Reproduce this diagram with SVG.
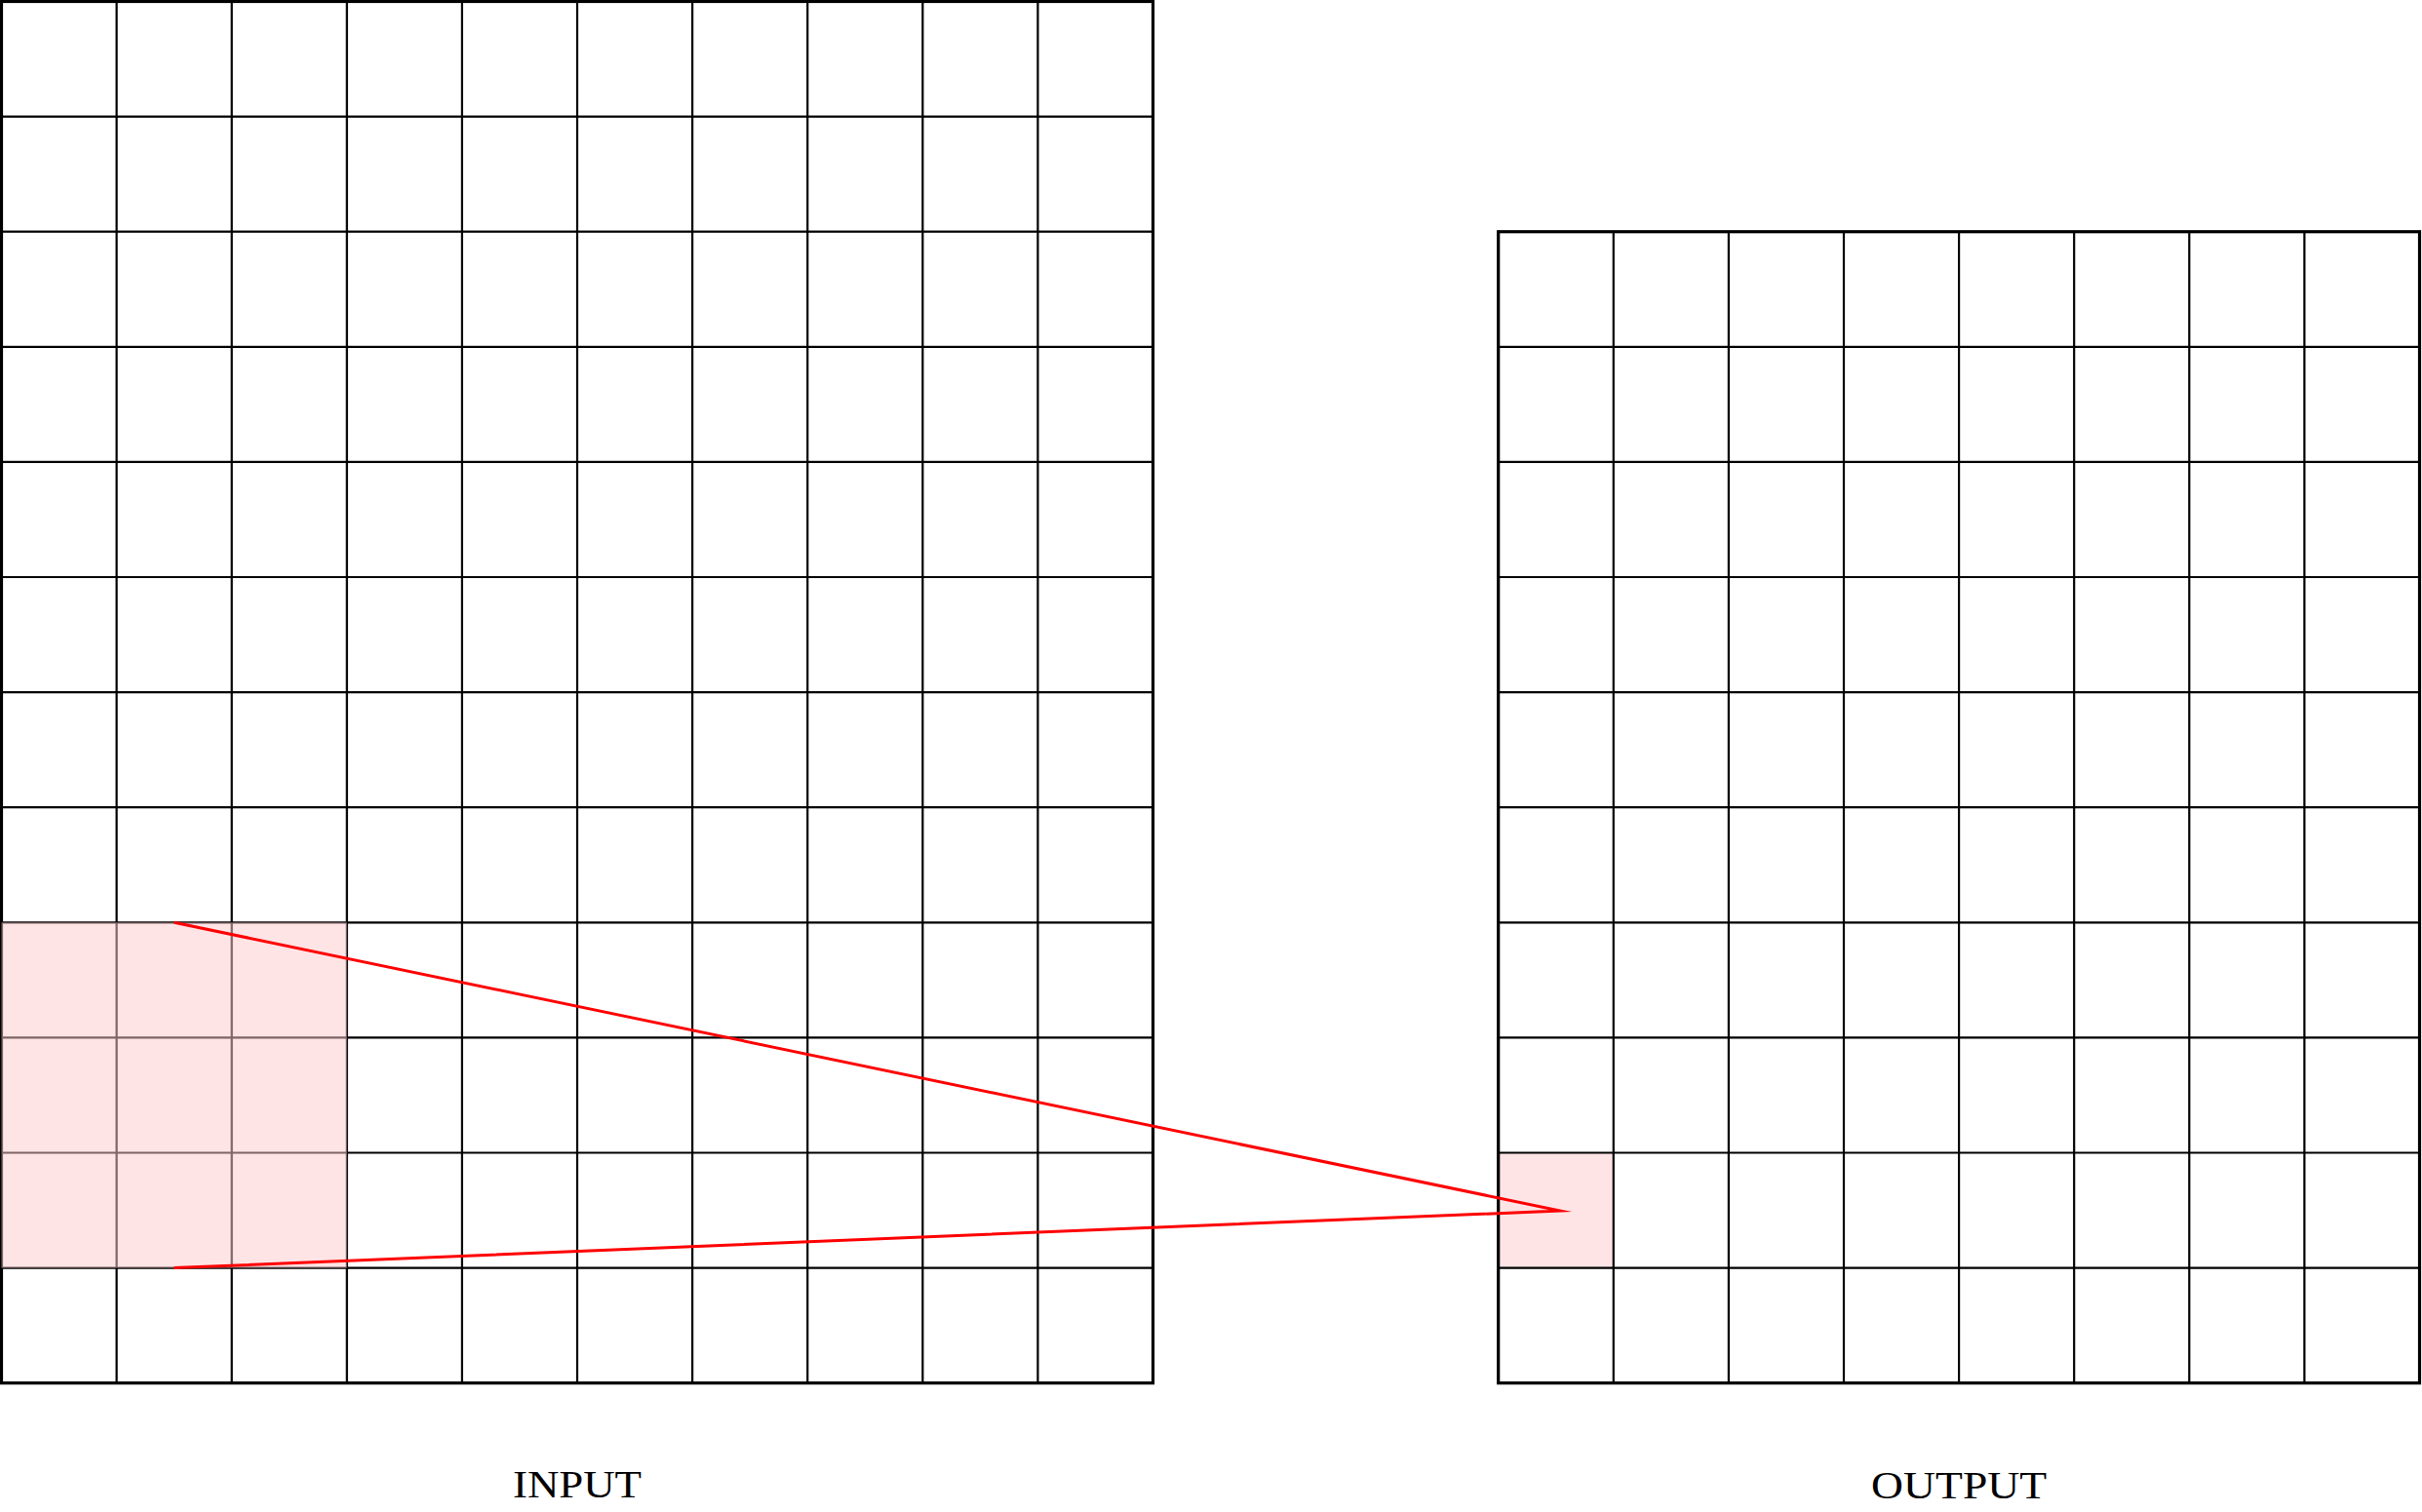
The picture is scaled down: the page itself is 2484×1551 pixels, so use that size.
<svg xmlns="http://www.w3.org/2000/svg" width="2484" height="1551" viewBox="0 0 2484 1551">
<style>
.grid{fill:none;stroke:#000;stroke-width:2.2}
.frame{fill:none;stroke:#000;stroke-width:3.2}
.patch{fill:rgb(255,201,205);fill-opacity:0.5;stroke:none}
.cell{fill:#ffe4e6;stroke:none}
.conn{fill:none;stroke:#ff0000;stroke-width:3;stroke-linejoin:miter;stroke-miterlimit:10}
.lbl{font-family:"Liberation Serif","DejaVu Serif",serif;font-size:41px;fill:#000;text-anchor:middle}
</style>
<rect width="2484" height="1551" fill="#fff"/>
<g id="output">
<rect class="cell" x="1536.7" y="1182.5" width="118.1" height="118.1"/>
<path class="grid" d="M1654.8 237.7V1418.7M1772.9 237.7V1418.7M1891 237.7V1418.7M2009.1 237.7V1418.7M2127.2 237.7V1418.7M2245.3 237.7V1418.7M2363.4 237.7V1418.7M1536.7 355.8H2481.5M1536.7 473.9H2481.5M1536.7 592H2481.5M1536.7 710.1H2481.5M1536.7 828.2H2481.5M1536.7 946.3H2481.5M1536.7 1064.4H2481.5M1536.7 1182.5H2481.5M1536.7 1300.6H2481.5"/>
<rect class="frame" x="1536.7" y="237.7" width="944.8" height="1181"/>
<text class="lbl" x="2009.1" y="1536.7" textLength="180" lengthAdjust="spacingAndGlyphs">OUTPUT</text>
</g>
<g id="input">
<path class="grid" d="M119.6 1.5V1418.7M237.7 1.5V1418.7M355.8 1.5V1418.7M473.9 1.5V1418.7M592 1.5V1418.7M710.1 1.5V1418.7M828.2 1.5V1418.7M946.3 1.5V1418.7M1064.4 1.5V1418.7M1.5 119.6H1182.5M1.5 237.7H1182.5M1.5 355.8H1182.5M1.5 473.9H1182.5M1.5 592H1182.5M1.5 710.1H1182.5M1.5 828.2H1182.5M1.5 946.3H1182.5M1.5 1064.4H1182.5M1.5 1182.5H1182.5M1.5 1300.6H1182.5"/>
<rect class="frame" x="1.5" y="1.5" width="1181" height="1417.2"/>
<rect class="patch" x="1.5" y="946.3" width="354.3" height="354.3"/>
<text class="lbl" x="592" y="1536" textLength="132" lengthAdjust="spacingAndGlyphs">INPUT</text>
</g>
<g id="connectors">
<polyline class="conn" points="178.6,946.3 1600,1242 178.6,1300.6"/>
</g>
</svg>
